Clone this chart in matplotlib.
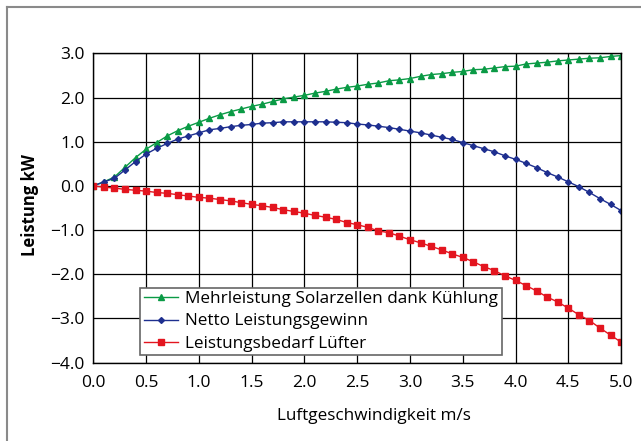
import numpy as np
import matplotlib
matplotlib.use('Agg')
from matplotlib import pyplot as plt
from matplotlib.lines import Line2D

# Air speed in m/s
speed = [round(0.1 * i, 1) for i in range(51)]

# Extra solar cell output due to cooling (kW)
mehrleistung = [0.00, 0.09, 0.20, 0.42, 0.64, 0.83, 0.98, 1.13, 1.25, 1.35,
                1.44, 1.53, 1.61, 1.68, 1.74, 1.80, 1.85, 1.91, 1.97, 2.01,
                2.05, 2.10, 2.14, 2.19, 2.23, 2.26, 2.30, 2.33, 2.38, 2.40,
                2.43, 2.48, 2.52, 2.54, 2.57, 2.59, 2.63, 2.64, 2.67, 2.70,
                2.71, 2.76, 2.78, 2.80, 2.83, 2.85, 2.87, 2.89, 2.90, 2.93,
                2.95]

# Net gain (kW)
netto = [0.00, 0.09, 0.17, 0.36, 0.55, 0.72, 0.85, 0.96, 1.06, 1.13,
         1.20, 1.27, 1.30, 1.34, 1.37, 1.39, 1.42, 1.43, 1.45, 1.45,
         1.45, 1.45, 1.45, 1.44, 1.43, 1.40, 1.38, 1.35, 1.32, 1.28,
         1.24, 1.20, 1.15, 1.10, 1.05, 0.98, 0.91, 0.84, 0.77, 0.68,
         0.60, 0.51, 0.41, 0.30, 0.20, 0.09, -0.02, -0.15, -0.29, -0.42,
         -0.56]

# Fan power demand (kW)
luefter = [0.00, -0.03, -0.05, -0.08, -0.10, -0.12, -0.15, -0.17, -0.20, -0.23,
           -0.26, -0.28, -0.31, -0.34, -0.38, -0.42, -0.45, -0.49, -0.54, -0.58,
           -0.62, -0.67, -0.71, -0.76, -0.83, -0.88, -0.94, -1.02, -1.06, -1.14,
           -1.22, -1.29, -1.37, -1.45, -1.54, -1.62, -1.72, -1.83, -1.92, -2.04,
           -2.14, -2.26, -2.38, -2.52, -2.63, -2.77, -2.92, -3.05, -3.22, -3.38,
           -3.54]

labels = ['Mehrleistung Solarzellen dank Kühlung',
          'Netto Leistungsgewinn',
          'Leistungsbedarf Lüfter']

plt.rcParams['font.family'] = ['Open Sans', 'DejaVu Sans']
plt.rcParams['axes.unicode_minus'] = True

fig = plt.figure(figsize=(6.41, 4.41), dpi=100)
ax = fig.add_axes([0.1456, 0.178, 0.8234, 0.701])

ax.plot(speed, mehrleistung, color='#0a9a45', lw=1.0, marker='^', ms=5,
        label=labels[0])
ax.plot(speed, netto, color='#1e2f8f', lw=1.0, marker='D', ms=3,
        label=labels[1])
ax.plot(speed, luefter, color='#e3151f', lw=1.0, marker='s', ms=4,
        label=labels[2])

ax.set_xlim([0, 5])
ax.set_ylim([-4, 3])
ax.set_xticks(np.arange(0, 5.01, 0.5))
ax.set_yticks(np.arange(-4, 3.01, 1.0))
ax.xaxis.set_major_formatter(matplotlib.ticker.FormatStrFormatter('%.1f'))
ax.yaxis.set_major_formatter(matplotlib.ticker.FuncFormatter(
    lambda v, p: ('%.1f' % v).replace('-', '\u2212')))
ax.grid(True, color='black', lw=0.9)
ax.set_axisbelow(True)
for s in ax.spines.values():
    s.set_color('black')
    s.set_linewidth(1.0)
ax.tick_params(axis='both', length=0, labelsize=12.5, colors='black')
ax.tick_params(axis='x', pad=9)
ax.tick_params(axis='y', pad=6)

ax.set_xlabel('Luftgeschwindigkeit m/s', fontsize=12.3)
ax.xaxis.set_label_coords(0.532, -0.148)
ax.set_ylabel('Leistung kW', fontsize=12, fontweight='bold')
ax.yaxis.set_label_coords(-0.103, 0.51)

leg = ax.legend(loc='lower left', bbox_to_anchor=(0.0886, 0.023, 0.686, 0.23),
                mode='expand', fontsize=12.3, fancybox=False, framealpha=1,
                edgecolor='#666666', borderpad=0.2, labelspacing=0.38,
                handlelength=2.0, handletextpad=0.45, borderaxespad=0)
leg.get_frame().set_linewidth(1.2)

# grey frame around the figure (top and left visible)
fig.add_artist(Line2D([7 / 641, 1], [1 - 7 / 441, 1 - 7 / 441],
                      transform=fig.transFigure, color='#8a8a8a', lw=1.5))
fig.add_artist(Line2D([7 / 641, 7 / 641], [0, 1 - 7 / 441],
                      transform=fig.transFigure, color='#8a8a8a', lw=1.5))

fig.savefig('out.png', dpi=100)
